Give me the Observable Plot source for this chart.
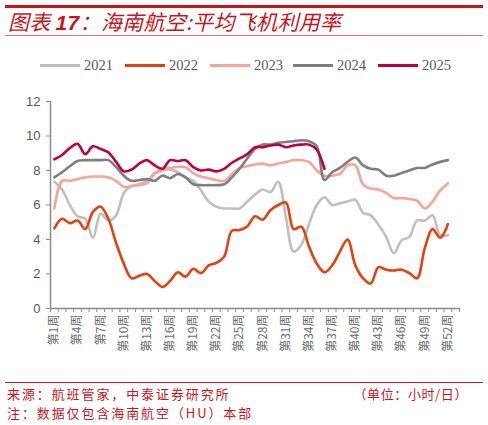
<!DOCTYPE html>
<html><head><meta charset="utf-8">
<script src="https://cdn.jsdelivr.net/npm/d3@7"></script>
<script src="https://cdn.jsdelivr.net/npm/@observablehq/plot@0.6"></script>
<style>
body{margin:0;width:488px;height:425px;position:relative;background:#fff;font-family:"Noto Sans CJK SC","Noto Sans",sans-serif;overflow:hidden}
.abs{position:absolute;white-space:nowrap}
.foot{font-size:13px;color:#D0141C;letter-spacing:1.9px;line-height:16px}
.lg{position:absolute;top:57px;font-family:"Liberation Serif",serif;font-size:14.5px;color:#595959;line-height:16px}
.sw{position:absolute;top:64px;width:40px;height:3px}
</style></head><body>
<div class="abs" style="left:5px;top:5px;width:478px;height:2.5px;background:#C8141C"></div>
<div class="abs" style="left:8px;top:8px;font-size:21px;line-height:27px;font-style:italic;color:#C8141C;letter-spacing:0.3px">图表 <b style="font-family:'Liberation Sans',sans-serif">17</b>：海南航空:平均飞机利用率</div>
<div class="abs" style="left:5px;top:35px;width:478px;height:1.3px;background:#E07070"></div>
<div id="legend"></div>
<div id="chart" class="abs" style="left:0;top:82px"></div>
<div class="abs" style="left:5px;top:381.5px;width:478px;height:1px;background:#D0141C"></div>
<div class="abs foot" style="left:7px;top:386px">来源：航班管家，中泰证券研究所</div>
<div class="abs foot" style="right:20px;top:386px;letter-spacing:0.6px">（单位：小时/日）</div>
<div class="abs foot" style="left:7px;top:405px">注：数据仅包含海南航空（HU）本部</div>
<script>
const years = ["2021", "2022", "2023", "2024", "2025"];
const colors = ["#BFBFBF", "#E5400F", "#F6A598", "#7F7F7F", "#C00040"];
const weeks = d3.range(1, 53);
const labelWeeks = [1, 4, 7, 10, 13, 16, 19, 22, 25, 28, 31, 34, 37, 40, 43, 46, 49, 52];
const yTicks = [0, 2, 4, 6, 8, 10, 12];

const v2021 = [7.35, 6.9, 6.0, 5.35, 5.2, 4.1, 5.5, 5.1, 5.4, 6.7, 7.1, 7.15, 7.25, 7.8, 8.0, 8.05, 7.9, 7.6, 7.4, 6.85, 6.2, 5.9, 5.8, 5.8, 5.8, 6.2, 6.6, 6.9, 6.75, 7.35, 5.3, 3.3, 3.7, 4.9, 6.0, 6.45, 6.0, 6.1, 6.2, 6.3, 5.55, 5.4, 4.85, 4.15, 3.2, 3.95, 4.15, 5.1, 5.1, 5.4, 4.25, 4.25];
const v2022 = [4.65, 5.2, 4.95, 5.1, 4.6, 5.6, 5.9, 5.2, 3.8, 2.6, 1.75, 1.9, 2.0, 1.6, 1.25, 1.6, 2.1, 1.85, 2.3, 2.05, 2.5, 2.65, 3.0, 4.5, 4.55, 4.75, 5.35, 5.15, 5.7, 6.0, 6.15, 4.6, 4.75, 3.6, 2.6, 2.1, 2.5, 3.3, 4.0, 2.5, 1.75, 1.45, 2.4, 2.25, 2.2, 2.25, 2.05, 1.75, 3.5, 4.6, 4.1, 4.9];
const v2023 = [5.8, 7.4, 7.4, 7.5, 7.6, 7.65, 7.65, 7.6, 7.4, 7.05, 7.1, 7.2, 7.4, 7.85, 8.05, 8.15, 8.2, 8.2, 7.85, 7.65, 7.55, 7.45, 7.4, 7.8, 8.15, 8.25, 8.35, 8.4, 8.3, 8.4, 8.5, 8.6, 8.6, 8.5, 8.0, 7.7, 7.7, 7.8, 8.3, 8.3, 7.2, 6.95, 6.9, 6.7, 6.4, 6.4, 6.35, 6.25, 5.8, 6.2, 6.85, 7.25];
const v2024 = [7.6, 7.9, 8.25, 8.55, 8.6, 8.6, 8.6, 8.6, 8.2, 7.7, 7.4, 7.45, 7.5, 7.4, 7.7, 7.55, 7.8, 7.6, 7.2, 7.15, 7.15, 7.15, 7.2, 7.6, 8.1, 8.7, 9.25, 9.5, 9.5, 9.6, 9.65, 9.7, 9.75, 9.7, 9.4, 7.45, 7.9, 8.15, 8.5, 8.75, 8.3, 8.1, 8.05, 7.7, 7.7, 7.85, 8.0, 8.15, 8.15, 8.35, 8.5, 8.6];
const v2025 = [8.65, 8.9, 9.3, 9.55, 8.95, 9.4, 9.25, 9.05, 8.5, 7.95, 8.05, 8.4, 8.6, 8.3, 8.1, 8.6, 8.55, 8.6, 8.2, 8.0, 8.05, 7.95, 8.1, 8.45, 8.7, 8.95, 9.35, 9.35, 9.45, 9.5, 9.35, 9.45, 9.5, 9.5, 9.2, 8.1];
const series = [v2021, v2022, v2023, v2024, v2025];

// legend
const lgX = [40, 125, 210, 293, 378];
const lg = document.getElementById("legend");
years.forEach((y, i) => {
  const s = document.createElement("div");
  s.className = "sw"; s.style.left = lgX[i] + "px"; s.style.background = colors[i];
  lg.appendChild(s);
  const t = document.createElement("div");
  t.className = "lg"; t.style.left = (lgX[i] + 44) + "px"; t.textContent = y;
  lg.appendChild(t);
});

const boundaries = d3.range(0, 54).map(d => d + 0.5);
const lineMarks = series.map((vals, i) =>
  Plot.line(vals.map((v, j) => ({week: weeks[j], value: v})), {
    x: "week", y: "value", stroke: colors[i], strokeWidth: 2.6, curve: "catmull-rom"
  })
);

const chart = Plot.plot({
  width: 488, height: 295,
  marginLeft: 50, marginRight: 29, marginTop: 19, marginBottom: 69,
  x: {domain: [0.5, 53.5], axis: null},
  y: {domain: [0, 12], axis: null},
  style: {fontFamily: "'Liberation Sans','Noto Sans CJK SC',sans-serif", color: "#595959", background: "transparent"},
  marks: [
    Plot.axisY({ticks: yTicks, tickSize: 4, tickPadding: 6, fontSize: 13, label: null, stroke: "#8C8C8C"}),
    Plot.axisX({ticks: boundaries, tickSize: 4, tickFormat: () => "", label: null, stroke: "#8C8C8C"}),
    Plot.axisX({ticks: labelWeeks, tickFormat: d => `第${d}周`, tickRotate: -90, tickSize: 0, tickPadding: 6, fontSize: 12, label: null, fill: "#6B6B6B", fontFamily: "'Noto Sans CJK SC',sans-serif"}),
    Plot.ruleX([0.5], {stroke: "#8C8C8C", strokeWidth: 1.5}),
    Plot.ruleY([0], {stroke: "#8C8C8C", strokeWidth: 1.5}),
    ...lineMarks
  ]
});
document.getElementById("chart").appendChild(chart);
</script>
</body></html>
